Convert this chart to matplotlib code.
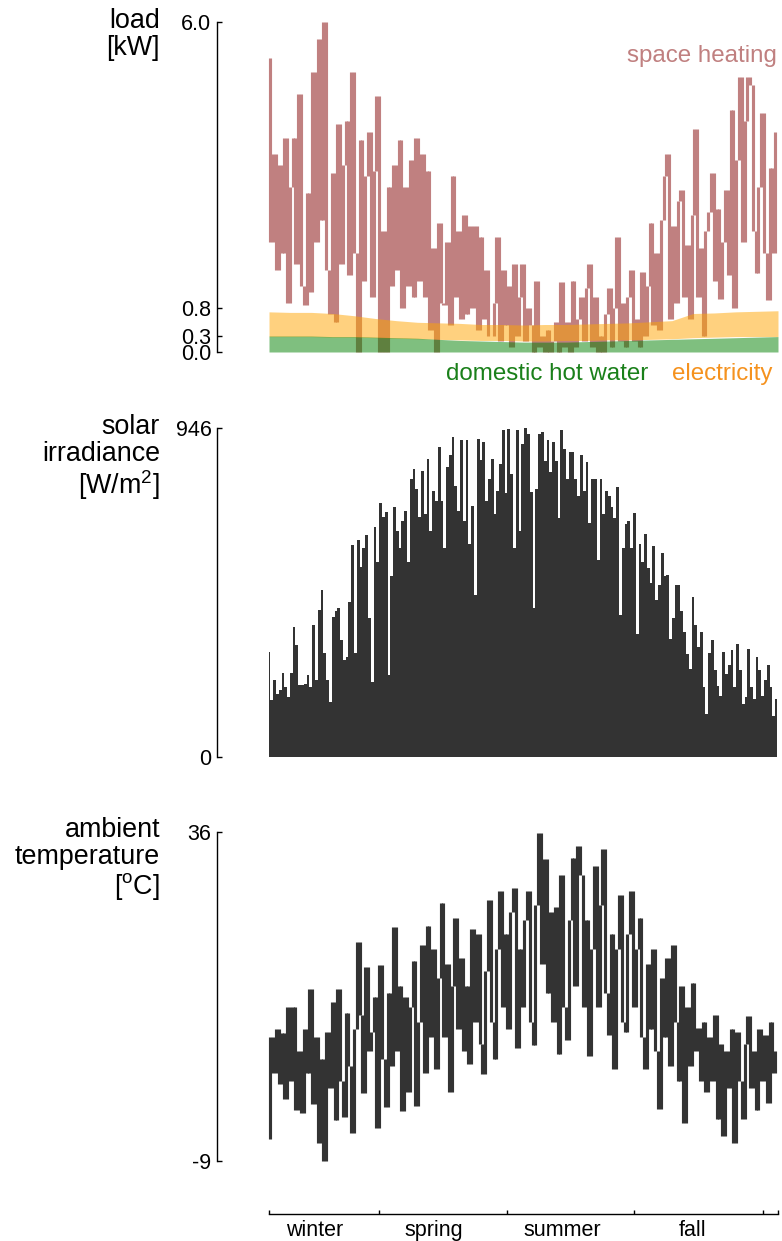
import numpy as np
import matplotlib
matplotlib.use('Agg')
import matplotlib.pyplot as plt

plt.rcParams['font.family'] = ['Liberation Sans', 'DejaVu Sans']
plt.rcParams['mathtext.fontset'] = 'custom'
plt.rcParams['mathtext.rm'] = 'Liberation Sans'
plt.rcParams['mathtext.it'] = 'Liberation Sans:italic'
plt.rcParams['axes.unicode_minus'] = False

# space heating load [kW], one value every 2 days
space_heating = [
    5.35, 2.0, 3.6, 1.5, 3.4, 1.8, 3.9, 0.9, 3.0, 3.9,
    1.6, 4.7, 1.2, 0.85, 2.9, 1.1, 5.1, 2.0, 5.7, 2.4,
    6.0, 1.5, 0.7, 3.25, 0.55, 4.15, 1.6, 3.4, 4.2, 1.4,
    5.1, 1.8, 0.0, 3.85, 1.3, 3.2, 4.0, 1.0, 3.3, 4.65,
    0.0, 2.2, 0.0, 3.0, 1.2, 3.4, 1.5, 3.85, 0.8, 3.0,
    1.2, 3.5, 1.0, 3.9, 1.3, 3.6, 1.0, 3.3, 0.4, 1.9,
    0.0, 2.35, 0.9, 0.85, 2.0, 0.5, 3.2, 1.0, 2.2, 0.6,
    2.5, 0.7, 2.3, 0.8, 2.3, 0.4, 2.1, 0.6, 1.5, 0.3,
    0.3, 0.9, 2.1, 0.2, 1.5, 0.5, 1.2, 0.1, 1.6, 0.3,
    1.0, 1.6, 0.2, 0.8, 0.5, 0.0, 1.3, 0.1, 0.3, 0.0,
    0.4, 0.0, 0.2, 0.55, 0.0, 1.27, 0.1, 0.55, 0.0, 1.3,
    0.1, 0.6, 1.0, 0.2, 1.16, 1.6, 0.1, 1.0, 0.0, 0.3,
    0.0, 0.7, 1.16, 0.1, 0.8, 2.1, 0.2, 0.9, 0.1, 1.0,
    1.5, 0.2, 0.6, 0.1, 1.45, 0.3, 1.2, 2.35, 0.5, 1.8,
    0.4, 2.4, 3.2, 3.6, 0.6, 2.3, 0.9, 2.75, 2.95, 1.0,
    1.95, 0.6, 2.5, 4.05, 1.0, 1.9, 0.3, 2.2, 2.55, 3.25,
    1.3, 2.6, 0.97, 2.0, 2.95, 1.4, 4.4, 0.8, 3.5, 5.0,
    2.0, 4.2, 5.0, 4.85, 2.2, 1.43, 3.0, 4.35, 1.8, 0.95,
    3.35, 1.8, 4.0,
]

# electricity and domestic hot water bands [kW], 25 values over the year
elec_hi = [0.73, 0.72, 0.72, 0.70, 0.66, 0.61, 0.57, 0.54, 0.53, 0.52, 0.50, 0.50, 0.49,
           0.50, 0.50, 0.51, 0.52, 0.53, 0.55, 0.57, 0.70, 0.71, 0.73, 0.74, 0.75]
elec_lo = [0.28, 0.28, 0.28, 0.27, 0.27, 0.26, 0.25, 0.24, 0.23, 0.22, 0.21, 0.21, 0.20,
           0.20, 0.21, 0.21, 0.22, 0.22, 0.23, 0.24, 0.26, 0.27, 0.28, 0.28, 0.28]
dhw_hi = [0.29, 0.29, 0.29, 0.28, 0.28, 0.27, 0.26, 0.25, 0.23, 0.21, 0.20, 0.19, 0.18,
          0.18, 0.18, 0.19, 0.20, 0.21, 0.22, 0.23, 0.24, 0.25, 0.26, 0.27, 0.28]

# daily peak solar irradiance [W/m2], one value every 2 days
solar = [
    302, 164, 221, 180, 193, 241, 200, 172, 241, 374,
    322, 207, 207, 210, 236, 200, 380, 220, 423, 480,
    300, 221, 158, 403, 420, 428, 336, 279, 288, 446,
    610, 300, 624, 547, 600, 638, 400, 216, 661, 560,
    730, 690, 705, 236, 520, 719, 650, 600, 680, 707,
    560, 800, 828, 771, 690, 822, 700, 857, 650, 765,
    736, 891, 736, 600, 834, 868, 920, 780, 707, 911,
    680, 911, 612, 722, 466, 914, 854, 906, 736, 800,
    857, 700, 765, 843, 940, 760, 943, 814, 600, 940,
    650, 900, 946, 929, 762, 428, 771, 929, 934, 850,
    911, 820, 906, 850, 687, 940, 886, 800, 877, 877,
    800, 750, 868, 765, 848, 673, 800, 800, 566, 800,
    700, 765, 750, 719, 687, 776, 408, 600, 670, 679,
    600, 702, 353, 612, 560, 641, 544, 500, 607, 450,
    495, 587, 520, 523, 339, 400, 495, 495, 420, 359,
    296, 253, 460, 380, 316, 359, 200, 124, 300, 336,
    250, 204, 175, 302, 240, 265, 308, 200, 325, 250,
    152, 172, 311, 200, 167, 288, 250, 175, 220, 265,
    200, 118, 167,
]

# ambient temperature [C], one value every 2 days
temperature = [
    -6.0, 8.0, 3.0, 9.0, 1.5, 8.5, -0.5, 12.0, 2.0, 12.1,
    -2.0, 6.0, -2.4, 9.0, 3.0, 14.5, -1.2, 8.0, -6.5, 5.0,
    -9.0, 8.6, 1.0, 12.8, -3.4, 14.5, 2.0, -3.0, 11.2, 4.0,
    -5.2, 9.0, 20.9, 11.0, 0.3, 17.6, 6.0, 8.6, 13.5, -4.5,
    17.8, 5.0, -1.6, 14.0, 4.0, 23.0, 6.0, 15.0, -2.1, 13.4,
    0.5, 12.0, 18.4, -1.5, 10.0, 20.6, 3.0, 23.2, 8.0, 20.0,
    3.6, 16.0, 26.3, 8.0, 18.0, 0.5, 15.0, 24.3, 9.0, 18.8,
    6.0, 15.0, 4.3, 22.8, 10.0, 22.0, 7.0, 2.9, 17.0, 26.7,
    10.0, 4.9, 20.0, 27.9, 12.0, 22.0, 9.0, 25.0, 28.3, 6.4,
    20.0, 12.0, 24.0, 27.9, 10.0, 6.9, 26.0, 35.9, 18.0, 32.3,
    14.0, 25.0, 10.0, 25.7, 5.7, 30.1, 12.0, 7.6, 24.0, 32.4,
    15.0, 34.1, 30.1, 12.0, 24.0, 5.3, 20.0, 31.3, 12.0, 26.0,
    33.7, 14.0, 8.3, 22.0, 3.6, 20.0, 27.4, 10.0, 8.7, 22.0,
    27.9, 12.0, 20.0, 24.3, 8.0, 3.6, 18.0, 9.0, 20.0, 6.0,
    -1.9, 16.0, 8.0, 18.8, 4.0, 20.6, 10.0, 2.0, 15.0, -3.8,
    12.0, 4.0, 15.4, 6.0, 9.2, 2.0, 10.0, 0.5, 8.0, 2.0,
    11.0, -3.2, 7.0, -5.6, 6.0, 1.0, 9.0, -6.5, 8.7, 2.0,
    -3.2, 7.0, 10.8, 1.0, 6.0, -2.0, 9.0, 2.0, 8.3, -1.0,
    10.0, 3.0, 6.0,
]

season_bounds = [0, 79, 171, 262, 354, 365]
season_names = ['winter', 'spring', 'summer', 'fall']
season_label_days = [33, 118, 210, 304]

days2 = np.linspace(0, 364, len(space_heating))
days_band = np.linspace(0, 365, len(elec_hi))

W, H = 782, 1241
fig = plt.figure(figsize=(W / 100, H / 100), dpi=100)


def make_axes(top, bottom):
    ax = fig.add_axes([269 / W, 1 - bottom / H, (778 - 269) / W, (bottom - top) / H])
    ax.set_xlim(0, 365)
    for s in ['top', 'right', 'bottom']:
        ax.spines[s].set_visible(False)
    ax.spines['left'].set_position(('outward', 52 * 0.72))
    ax.spines['left'].set_linewidth(1.0)
    ax.tick_params(axis='y', direction='in', length=3.6, width=1.0, labelsize=15.5, pad=4)
    ax.set_xticks([])
    return ax


def spiky(ax, values, **kw):
    # each step between consecutive samples drawn as one vertical stroke
    v = np.asarray(values, dtype=float)
    x = 0.5 * (days2[:-1] + days2[1:])
    ax.vlines(x, np.minimum(v[:-1], v[1:]), np.maximum(v[:-1], v[1:]), **kw)


ax1 = make_axes(22, 352)
ax2 = make_axes(428, 757)
ax3 = make_axes(832, 1161)

# panel 1: loads
spiky(ax1, space_heating, color='#c08080', lw=2.25, zorder=1, clip_on=False)
ax1.fill_between(days_band, elec_lo, elec_hi, color='orange', alpha=0.5, lw=0, zorder=2)
ax1.fill_between(days_band, 0, dhw_hi, color='green', alpha=0.5, lw=0, zorder=3)
ax1.set_ylim(0, 6)
ax1.set_yticks([0, 0.3, 0.8, 6.0])
ax1.set_yticklabels(['0.0', '0.3', '0.8', '6.0'])
ax1.spines['left'].set_bounds(0, 6)
ax1.text(0.998, 0.879, 'space heating', transform=ax1.transAxes, ha='right', va='baseline',
         fontsize=17.4, color='#c08080')
ax1.text(0.745, -0.085, 'domestic hot water', transform=ax1.transAxes, ha='right', va='baseline',
         fontsize=17.4, color='#1a801a')
ax1.text(0.990, -0.085, 'electricity', transform=ax1.transAxes, ha='right', va='baseline',
         fontsize=17.4, color='#f5921e')

# panel 2: solar irradiance
ax2.fill_between(days2, 0, solar, step='mid', color='#333333', lw=0)
ax2.set_ylim(0, 946)
ax2.set_yticks([0, 946])
ax2.spines['left'].set_bounds(0, 946)

# panel 3: ambient temperature
spiky(ax3, temperature, color='#333333', lw=2.25, clip_on=False)
ax3.set_ylim(-9, 36)
ax3.set_yticks([-9, 36])
ax3.spines['left'].set_bounds(-9, 36)
ax3.spines['bottom'].set_visible(True)
ax3.spines['bottom'].set_position(('outward', 53 * 0.72))
ax3.spines['bottom'].set_linewidth(1.0)
ax3.spines['bottom'].set_bounds(0, 365)
ax3.set_xticks(season_bounds)
ax3.set_xticklabels([''] * len(season_bounds))
ax3.set_xticks(season_label_days, minor=True)
ax3.set_xticklabels(season_names, minor=True)
ax3.tick_params(axis='x', which='major', direction='in', length=3, width=1.0)
ax3.tick_params(axis='x', which='minor', length=0, labelsize=15.5, pad=4)

# panel titles
fig.text(160 / W, 1 - 8 / H, 'load\n[kW]', ha='right', va='top', fontsize=19.4, linespacing=1.05)
fig.text(160 / W, 1 - 414 / H, 'solar\nirradiance\n[W/m$^2$]', ha='right', va='top',
         fontsize=19.4, linespacing=1.05)
fig.text(160 / W, 1 - 817 / H, 'ambient\ntemperature\n[$^\\mathrm{o}$C]', ha='right', va='top',
         fontsize=19.4, linespacing=1.05)

fig.savefig('out.png', dpi=100)
